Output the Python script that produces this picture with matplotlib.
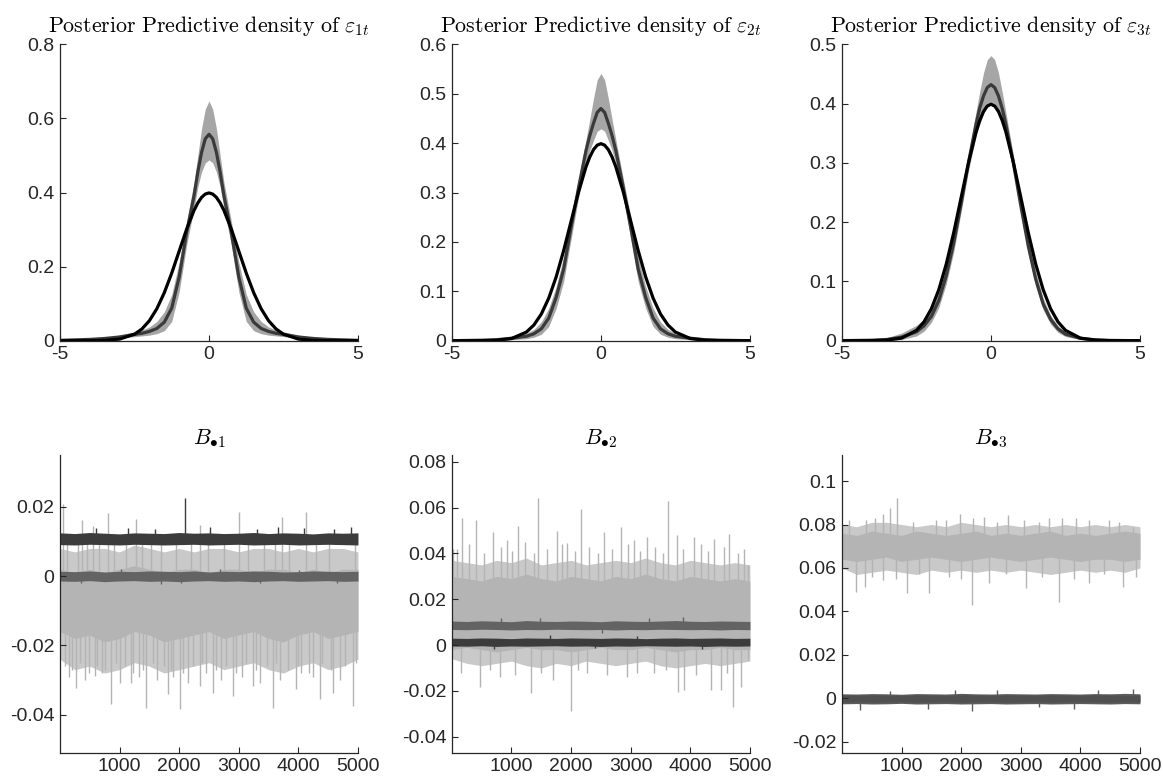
import numpy as np
import matplotlib
matplotlib.use("Agg")
import matplotlib.pyplot as plt
from matplotlib.ticker import FormatStrFormatter

plt.rcParams['font.family'] = ['Liberation Sans', 'DejaVu Sans']
plt.rcParams['mathtext.fontset'] = 'cm'
plt.rcParams['axes.unicode_minus'] = False

# ---------------- posterior predictive densities ----------------
dens_x = [-5, -4, -3.5, -3, -2.5, -2.25, -2, -1.75, -1.5, -1.25, -1, -0.75, -0.5, -0.375, -0.25, -0.125,
          0, 0.125, 0.25, 0.375, 0.5, 0.75, 1, 1.25, 1.5, 1.75, 2, 2.25, 2.5, 3, 3.5, 4, 5]

# standard normal reference
normal_pdf = [0.0, 0.0001, 0.0009, 0.0044, 0.0175, 0.0317, 0.0540, 0.0863, 0.1295, 0.1826, 0.2420, 0.3011,
              0.3521, 0.3718, 0.3867, 0.3958, 0.3989, 0.3958, 0.3867, 0.3718, 0.3521, 0.3011, 0.2420, 0.1826,
              0.1295, 0.0863, 0.0540, 0.0317, 0.0175, 0.0044, 0.0009, 0.0001, 0.0]

eps1_mean = [0.001, 0.0035, 0.006, 0.010, 0.017, 0.020, 0.025, 0.033, 0.050, 0.088, 0.172, 0.292, 0.392,
             0.455, 0.508, 0.545, 0.557, 0.545, 0.508, 0.455, 0.392, 0.292, 0.172, 0.088, 0.050, 0.033,
             0.025, 0.020, 0.017, 0.010, 0.006, 0.0035, 0.001]
eps1_hi = [0.002, 0.005, 0.009, 0.015, 0.024, 0.029, 0.037, 0.052, 0.078, 0.125, 0.212, 0.322, 0.428, 0.500,
           0.572, 0.625, 0.647, 0.625, 0.572, 0.500, 0.428, 0.322, 0.212, 0.125, 0.078, 0.052, 0.037, 0.029,
           0.024, 0.015, 0.009, 0.005, 0.002]
eps1_lo = [0.0, 0.002, 0.004, 0.007, 0.011, 0.013, 0.015, 0.019, 0.027, 0.052, 0.132, 0.258, 0.358, 0.415,
           0.455, 0.480, 0.488, 0.480, 0.455, 0.415, 0.358, 0.258, 0.132, 0.052, 0.027, 0.019, 0.015, 0.013,
           0.011, 0.007, 0.004, 0.002, 0.0]

eps2_mean = [0.0, 0.001, 0.002, 0.005, 0.009, 0.014, 0.024, 0.046, 0.088, 0.145, 0.230, 0.310, 0.385, 0.415,
             0.440, 0.462, 0.470, 0.462, 0.440, 0.415, 0.385, 0.310, 0.230, 0.145, 0.088, 0.046, 0.024,
             0.014, 0.009, 0.005, 0.002, 0.001, 0.0]
eps2_hi = [0.001, 0.002, 0.004, 0.008, 0.015, 0.023, 0.038, 0.066, 0.110, 0.170, 0.252, 0.328, 0.407, 0.448,
           0.490, 0.528, 0.541, 0.528, 0.490, 0.448, 0.407, 0.328, 0.252, 0.170, 0.110, 0.066, 0.038, 0.023,
           0.015, 0.008, 0.004, 0.002, 0.001]
eps2_lo = [0.0, 0.0, 0.001, 0.002, 0.004, 0.007, 0.013, 0.029, 0.066, 0.120, 0.206, 0.290, 0.360, 0.385,
           0.405, 0.424, 0.429, 0.424, 0.405, 0.385, 0.360, 0.290, 0.206, 0.120, 0.066, 0.029, 0.013, 0.007,
           0.004, 0.002, 0.001, 0.0, 0.0]

eps3_mean = [0.0001, 0.0008, 0.002, 0.006, 0.015, 0.025, 0.041, 0.068, 0.110, 0.165, 0.232, 0.302, 0.366,
             0.393, 0.413, 0.427, 0.432, 0.427, 0.413, 0.392, 0.365, 0.300, 0.228, 0.160, 0.104, 0.062,
             0.036, 0.020, 0.011, 0.004, 0.0015, 0.0005, 0.0]
eps3_hi = [0.0, 0.002, 0.005, 0.013, 0.026, 0.036, 0.053, 0.082, 0.125, 0.180, 0.247, 0.317, 0.387, 0.421,
           0.452, 0.474, 0.481, 0.474, 0.452, 0.420, 0.385, 0.313, 0.240, 0.172, 0.116, 0.072, 0.043, 0.025,
           0.015, 0.006, 0.002, 0.001, 0.0]
eps3_lo = [0.0, 0.0, 0.0005, 0.002, 0.008, 0.016, 0.031, 0.056, 0.096, 0.150, 0.218, 0.288, 0.346, 0.366,
           0.383, 0.394, 0.398, 0.394, 0.383, 0.366, 0.345, 0.286, 0.215, 0.147, 0.092, 0.052, 0.028, 0.014,
           0.007, 0.002, 0.0005, 0.0, 0.0]

dens_ylim = [0.8, 0.6, 0.5]
dens_yticks = [[0, 0.2, 0.4, 0.6, 0.8], [0, 0.1, 0.2, 0.3, 0.4, 0.5, 0.6], [0, 0.1, 0.2, 0.3, 0.4, 0.5]]
dens_titles = [r'$\mathrm{Posterior\ Predictive\ density\ of\ }\varepsilon_{1t}$',
               r'$\mathrm{Posterior\ Predictive\ density\ of\ }\varepsilon_{2t}$',
               r'$\mathrm{Posterior\ Predictive\ density\ of\ }\varepsilon_{3t}$']

# ---------------- MCMC traces: envelope per 250 draws + visible spikes ----------------
trace_it = [1, 250, 500, 750, 1000, 1250, 1500, 1750, 2000, 2250, 2500, 2750, 3000, 3250, 3500, 3750,
            4000, 4250, 4500, 4750, 5000]

# B.1
b1_light_hi = [0.002, 0.001, 0.002, 0.001, 0.002, 0.003, 0.002, 0.001, 0.002, 0.002, 0.001, 0.002, 0.002,
               0.001, 0.002, 0.002, 0.001, 0.002, 0.001, 0.002, 0.002]
b1_light_lo = [-0.016, -0.018, -0.017, -0.019, -0.018, -0.016, -0.017, -0.019, -0.018, -0.017, -0.016,
               -0.018, -0.017, -0.016, -0.018, -0.019, -0.017, -0.016, -0.018, -0.017, -0.016]
b1_light_top = [0.008, 0.007, 0.008, 0.008, 0.007, 0.009, 0.008, 0.007, 0.008, 0.007, 0.008, 0.008, 0.007,
                0.008, 0.008, 0.007, 0.008, 0.007, 0.008, 0.008, 0.007]
b1_light_bot = [-0.024, -0.027, -0.026, -0.028, -0.027, -0.025, -0.026, -0.028, -0.027, -0.026, -0.025,
                -0.027, -0.026, -0.025, -0.027, -0.028, -0.026, -0.025, -0.027, -0.026, -0.024]
b1_light_spk_it = [50, 370, 555, 805, 1280, 2345, 3000, 3730, 4120,
                   263, 580, 861, 1200, 1450, 1810, 2010, 2345, 2570, 2900, 3240, 3575, 3965, 4355, 4580, 4915,
                   150, 420, 700, 1000, 1320, 1620, 1900, 2150, 2450, 2700, 3050, 3350, 3700, 4050, 4250, 4700,
                   80, 200, 330, 480, 620, 760, 940, 1090, 1230, 1390, 1560, 1740, 1870, 2060, 2240, 2390,
                   2620, 2790, 2960, 3120, 3290, 3470, 3630, 3820, 3990, 4170, 4390, 4540, 4780, 4960,
                   120, 300, 450, 650, 900, 1100, 1380, 1520, 1700, 1950, 2200, 2480, 2750, 3150, 3420, 3600,
                   3850, 4300, 4520, 4950]
b1_light_spk_val = [0.0207, 0.0163, 0.0144, 0.0183, 0.0165, 0.0149, 0.0186, 0.0171, 0.0186,
                    -0.0322, -0.0288, -0.0370, -0.0308, -0.0380, -0.0340, -0.0385, -0.0317, -0.0337, -0.0346,
                    -0.0317, -0.0380, -0.0327, -0.0356, -0.0337, -0.0375,
                    -0.029, -0.030, -0.028, -0.031, -0.029, -0.030, -0.029, -0.031, -0.028, -0.030, -0.029,
                    -0.031, -0.030, -0.028, -0.029, -0.030,
                    -0.026, -0.027, -0.025, -0.028, -0.026, -0.027, -0.025, -0.026, -0.028, -0.027, -0.025,
                    -0.026, -0.027, -0.028, -0.026, -0.025, -0.027, -0.026, -0.028, -0.025, -0.027, -0.026,
                    -0.025, -0.027, -0.026, -0.028, -0.025, -0.027, -0.026, -0.025,
                    0.010, 0.010, 0.011, 0.010, 0.010, 0.011, 0.010, 0.010, 0.011, 0.010, 0.010, 0.011,
                    0.010, 0.010, 0.011, 0.010, 0.010, 0.011, 0.010, 0.010]
b1_mid_hi = [0.0014, 0.0013, 0.0015, 0.0012, 0.0014, 0.0013, 0.0015, 0.0014, 0.0013, 0.0015, 0.0012,
             0.0014, 0.0013, 0.0015, 0.0014, 0.0012, 0.0013, 0.0015, 0.0014, 0.0013, 0.0014]
b1_mid_lo = [-0.0014, -0.0015, -0.0013, -0.0016, -0.0014, -0.0013, -0.0015, -0.0014, -0.0016, -0.0014,
             -0.0013, -0.0015, -0.0014, -0.0016, -0.0014, -0.0013, -0.0015, -0.0014, -0.0013, -0.0015, -0.0014]
b1_mid_spk_it = [350, 1020, 1700, 2030, 2680, 3350, 4010, 4640]
b1_mid_spk_val = [-0.0021, 0.0020, -0.0022, -0.0019, 0.0021, -0.0020, 0.0019, -0.0021]
b1_dark_hi = [0.0125, 0.0123, 0.0126, 0.0124, 0.0122, 0.0125, 0.0124, 0.0123, 0.0126, 0.0124, 0.0125,
              0.0123, 0.0124, 0.0126, 0.0123, 0.0125, 0.0124, 0.0122, 0.0125, 0.0124, 0.0125]
b1_dark_lo = [0.0091, 0.0090, 0.0092, 0.0091, 0.0090, 0.0092, 0.0091, 0.0090, 0.0091, 0.0092, 0.0090,
              0.0091, 0.0092, 0.0090, 0.0091, 0.0092, 0.0090, 0.0091, 0.0092, 0.0091, 0.0090]
b1_dark_spk_it = [2100, 600, 1150, 1600, 2520, 3300, 3650, 4100, 4600, 4880]
b1_dark_spk_val = [0.0226, 0.0140, 0.0138, 0.0136, 0.0141, 0.0137, 0.0143, 0.0139, 0.0137, 0.0142]

# B.2
b2_light_hi = [0.030, 0.029, 0.028, 0.030, 0.029, 0.031, 0.029, 0.028, 0.030, 0.029, 0.028, 0.030, 0.029,
               0.031, 0.029, 0.028, 0.030, 0.029, 0.028, 0.029, 0.028]
b2_light_lo = [-0.002, -0.001, -0.002, -0.003, -0.002, -0.001, -0.002, -0.002, -0.003, -0.002, -0.001,
               -0.002, -0.002, -0.001, -0.002, -0.003, -0.002, -0.002, -0.001, -0.002, -0.002]
b2_light_top = [0.037, 0.036, 0.035, 0.037, 0.036, 0.038, 0.035, 0.036, 0.037, 0.035, 0.036, 0.037, 0.036,
                0.038, 0.036, 0.035, 0.037, 0.036, 0.035, 0.036, 0.035]
b2_light_bot = [-0.006, -0.008, -0.009, -0.008, -0.007, -0.009, -0.010, -0.008, -0.009, -0.007, -0.008,
                -0.009, -0.008, -0.007, -0.009, -0.010, -0.009, -0.008, -0.009, -0.008, -0.007]
b2_light_spk_it = [174, 400, 1451, 2171, 3627, 1114, 692, 1760, 2548, 2829, 3279, 4066, 4404, 4657, 4966,
                   17, 917, 1929, 3054, 3785,
                   90, 280, 540, 820, 1010, 1230, 1380, 1600, 1850, 2060, 2300, 2450, 2680, 2960, 3160,
                   3400, 3550, 3880, 4180, 4300, 4560, 4800, 4900,
                   1997, 4724, 1327, 478, 3796, 3886, 4347, 4516, 804, 1704, 2941, 2266, 3391, 4854, 4966,
                   150, 640, 1060, 1500, 2120, 2600, 3100, 3600, 4100, 4620]
b2_light_spk_val = [0.0553, 0.0545, 0.0640, 0.0592, 0.0628, 0.0520, 0.0495, 0.0500, 0.0495, 0.0516, 0.0473,
                    0.0473, 0.0465, 0.0487, 0.0350, 0.0420, 0.0460, 0.0444, 0.0458, 0.0480,
                    0.042, 0.044, 0.040, 0.043, 0.041, 0.045, 0.040, 0.042, 0.044, 0.041, 0.043, 0.040,
                    0.042, 0.044, 0.041, 0.043, 0.040, 0.042, 0.044, 0.041, 0.043, 0.040, 0.042,
                    -0.0287, -0.0269, -0.0211, -0.0182, -0.0204, -0.0196, -0.0196, -0.0196, -0.0138,
                    -0.0153, -0.0138, -0.0124, -0.0124, -0.0182, -0.0065,
                    -0.012, -0.011, -0.013, -0.012, -0.011, -0.013, -0.012, -0.011, -0.013, -0.012]
b2_mid_hi = [0.0105, 0.0103, 0.0106, 0.0104, 0.0102, 0.0107, 0.0104, 0.0103, 0.0105, 0.0104, 0.0102,
             0.0106, 0.0104, 0.0103, 0.0105, 0.0107, 0.0104, 0.0103, 0.0105, 0.0104, 0.0103]
b2_mid_lo = [0.0068, 0.0067, 0.0069, 0.0068, 0.0066, 0.0068, 0.0067, 0.0069, 0.0068, 0.0067, 0.0068,
             0.0066, 0.0068, 0.0067, 0.0069, 0.0068, 0.0067, 0.0068, 0.0066, 0.0068, 0.0067]
b2_mid_spk_it = [820, 1480, 2520, 3300, 3880]
b2_mid_spk_val = [0.0118, 0.0120, 0.0052, 0.0117, 0.0122]
b2_dark_hi = [0.0030, 0.0029, 0.0031, 0.0030, 0.0028, 0.0031, 0.0030, 0.0029, 0.0031, 0.0030, 0.0029,
              0.0031, 0.0030, 0.0028, 0.0030, 0.0031, 0.0029, 0.0030, 0.0031, 0.0029, 0.0030]
b2_dark_lo = [-0.0004, -0.0005, -0.0003, -0.0006, -0.0004, -0.0005, -0.0004, -0.0003, -0.0005, -0.0004,
              -0.0006, -0.0004, -0.0005, -0.0003, -0.0004, -0.0005, -0.0004, -0.0006, -0.0004, -0.0005, -0.0004]
b2_dark_spk_it = [700, 1650, 2400, 3100, 4200]
b2_dark_spk_val = [-0.0016, 0.0042, -0.0015, 0.0040, -0.0017]

# B.3
b3_light_hi = [0.076, 0.075, 0.077, 0.076, 0.075, 0.077, 0.076, 0.075, 0.076, 0.077, 0.075, 0.076, 0.075,
               0.076, 0.077, 0.075, 0.076, 0.075, 0.076, 0.077, 0.076]
b3_light_lo = [0.064, 0.063, 0.064, 0.065, 0.063, 0.064, 0.065, 0.064, 0.063, 0.064, 0.065, 0.064, 0.063,
               0.064, 0.065, 0.064, 0.063, 0.064, 0.064, 0.063, 0.064]
b3_light_top = [0.080, 0.079, 0.081, 0.081, 0.080, 0.079, 0.080, 0.079, 0.081, 0.080, 0.079, 0.080, 0.079,
                0.080, 0.079, 0.080, 0.079, 0.080, 0.079, 0.080, 0.079]
b3_light_bot = [0.060, 0.057, 0.058, 0.059, 0.058, 0.057, 0.059, 0.058, 0.059, 0.058, 0.059, 0.058, 0.059,
                0.058, 0.057, 0.058, 0.059, 0.058, 0.059, 0.058, 0.060]
b3_light_spk_it = [922, 799, 687, 1983, 2391, 2782, 3481, 3928, 408, 4877, 1581, 4486,
                   120, 560, 1200, 1750, 2200, 2600, 3050, 3300, 3700, 4150, 4650,
                   2185, 3648, 1089, 1458, 240, 380, 3090, 4710, 4933, 687, 2475, 4151,
                   500, 900, 1300, 1800, 2000, 2750, 3350, 3900, 4400]
b3_light_spk_val = [0.0920, 0.0874, 0.0850, 0.0850, 0.0833, 0.0844, 0.0828, 0.0828, 0.0820, 0.0790, 0.0820,
                    0.0820,
                    0.082, 0.083, 0.081, 0.082, 0.083, 0.081, 0.082, 0.081, 0.083, 0.082, 0.081,
                    0.0429, 0.0445, 0.0483, 0.0483, 0.0490, 0.0514, 0.0506, 0.0514, 0.0560, 0.0545, 0.0530,
                    0.0530,
                    0.056, 0.055, 0.057, 0.056, 0.055, 0.057, 0.056, 0.055, 0.057]
b3_mid_hi = [0.0021, 0.0020, 0.0022, 0.0021, 0.0019, 0.0022, 0.0021, 0.0020, 0.0023, 0.0021, 0.0020,
             0.0022, 0.0021, 0.0020, 0.0022, 0.0021, 0.0020, 0.0022, 0.0021, 0.0023, 0.0021]
b3_mid_lo = [-0.0025, -0.0024, -0.0026, -0.0025, -0.0023, -0.0026, -0.0025, -0.0024, -0.0026, -0.0025,
             -0.0024, -0.0026, -0.0025, -0.0024, -0.0026, -0.0025, -0.0024, -0.0025, -0.0026, -0.0024, -0.0025]
b3_mid_spk_it = [4880, 2180, 300, 1450, 2600, 3900, 800, 1900, 3300, 4300]
b3_mid_spk_val = [0.0045, -0.0060, -0.0055, -0.0050, 0.0040, -0.0048, 0.0036, 0.0038, -0.0042, 0.0037]
b3_dark_hi = [0.0015, 0.0014, 0.0016, 0.0015, 0.0013, 0.0016, 0.0015, 0.0014, 0.0016, 0.0015, 0.0014,
              0.0016, 0.0015, 0.0014, 0.0016, 0.0015, 0.0014, 0.0016, 0.0015, 0.0014, 0.0015]
b3_dark_lo = [-0.0017, -0.0016, -0.0018, -0.0017, -0.0015, -0.0018, -0.0017, -0.0016, -0.0018, -0.0017,
              -0.0016, -0.0018, -0.0017, -0.0016, -0.0018, -0.0017, -0.0016, -0.0017, -0.0018, -0.0016, -0.0017]

trace_ylim = [(-0.051, 0.035), (-0.047, 0.083), (-0.025, 0.112)]
trace_yticks = [[-0.04, -0.02, 0, 0.02], [-0.04, -0.02, 0, 0.02, 0.04, 0.06, 0.08],
                [-0.02, 0, 0.02, 0.04, 0.06, 0.08, 0.1]]
trace_titles = [r'$B_{\bullet 1}$', r'$B_{\bullet 2}$', r'$B_{\bullet 3}$']

LIGHT = '#b4b4b4'
FRINGE = '#c9c9c9'
MID = '#636363'
DARK = '#3c3c3c'
AXC = '#262626'


def style_axis(ax):
    ax.spines['top'].set_visible(False)
    ax.spines['right'].set_visible(False)
    for s in ['left', 'bottom']:
        ax.spines[s].set_color(AXC)
        ax.spines[s].set_linewidth(0.9)
    ax.tick_params(direction='in', length=4, width=0.8, colors=AXC, labelsize=14, pad=4)
    ax.yaxis.set_major_formatter(FormatStrFormatter('%g'))


def draw_band(ax, z, lo, hi, color, spk_it=None, spk_val=None, base=None):
    # each layer gets its own zorder so later series really sit on top
    ax.fill_between(trace_it, lo, hi, color=color, lw=0, zorder=z)
    if spk_it:
        ax.vlines(spk_it, base, spk_val, color=color, lw=1.0, zorder=z)


fig = plt.figure(figsize=(11.63, 7.8), dpi=100)
lefts = [0.0516, 0.3886, 0.7240]
width = 0.2562

dens = [(eps1_mean, eps1_lo, eps1_hi), (eps2_mean, eps2_lo, eps2_hi), (eps3_mean, eps3_lo, eps3_hi)]
for i in range(3):
    ax = fig.add_axes([lefts[i], 0.5632, width, 0.380])
    m, lo, hi = dens[i]
    ax.fill_between(dens_x, lo, hi, color='#a6a6a6', lw=0)
    ax.plot(dens_x, m, color='#3a3a3a', lw=2.3)
    ax.plot(dens_x, normal_pdf, color='black', lw=2.3)
    ax.set_xlim(-5, 5)
    ax.set_ylim(0, dens_ylim[i])
    ax.set_xticks([-5, 0, 5])
    ax.set_yticks(dens_yticks[i])
    style_axis(ax)
    ax.set_title(dens_titles[i], fontsize=15.8, color='black', pad=9)

# B.1
ax = fig.add_axes([lefts[0], 0.035, width, 0.3817])
draw_band(ax, 1.0, b1_light_bot, b1_light_top, FRINGE)
draw_band(ax, 1.1, b1_light_lo, b1_light_hi, LIGHT, b1_light_spk_it, b1_light_spk_val, -0.008)
draw_band(ax, 1.2, b1_mid_lo, b1_mid_hi, MID, b1_mid_spk_it, b1_mid_spk_val, 0.0)
draw_band(ax, 1.3, b1_dark_lo, b1_dark_hi, DARK, b1_dark_spk_it, b1_dark_spk_val, 0.0107)
axes_b = [ax]

# B.2
ax = fig.add_axes([lefts[1], 0.035, width, 0.3817])
draw_band(ax, 1.0, b2_light_bot, b2_light_top, FRINGE)
draw_band(ax, 1.1, b2_light_lo, b2_light_hi, LIGHT, b2_light_spk_it, b2_light_spk_val, 0.012)
draw_band(ax, 1.2, b2_mid_lo, b2_mid_hi, MID, b2_mid_spk_it, b2_mid_spk_val, 0.0086)
draw_band(ax, 1.3, b2_dark_lo, b2_dark_hi, DARK, b2_dark_spk_it, b2_dark_spk_val, 0.0013)
axes_b.append(ax)

# B.3
ax = fig.add_axes([lefts[2], 0.035, width, 0.3817])
draw_band(ax, 1.0, b3_light_bot, b3_light_top, FRINGE)
draw_band(ax, 1.1, b3_light_lo, b3_light_hi, LIGHT, b3_light_spk_it, b3_light_spk_val, 0.070)
draw_band(ax, 1.2, b3_mid_lo, b3_mid_hi, '#5c5c5c', b3_mid_spk_it, b3_mid_spk_val, 0.0)
draw_band(ax, 1.3, b3_dark_lo, b3_dark_hi, '#505050')
axes_b.append(ax)

for i, ax in enumerate(axes_b):
    ax.set_xlim(1, 5000)
    ax.set_ylim(*trace_ylim[i])
    ax.set_xticks([1000, 2000, 3000, 4000, 5000])
    ax.set_yticks(trace_yticks[i])
    style_axis(ax)
    ax.set_title(trace_titles[i], fontsize=15.8, color='black', pad=8)

fig.savefig('out.png', dpi=100)
